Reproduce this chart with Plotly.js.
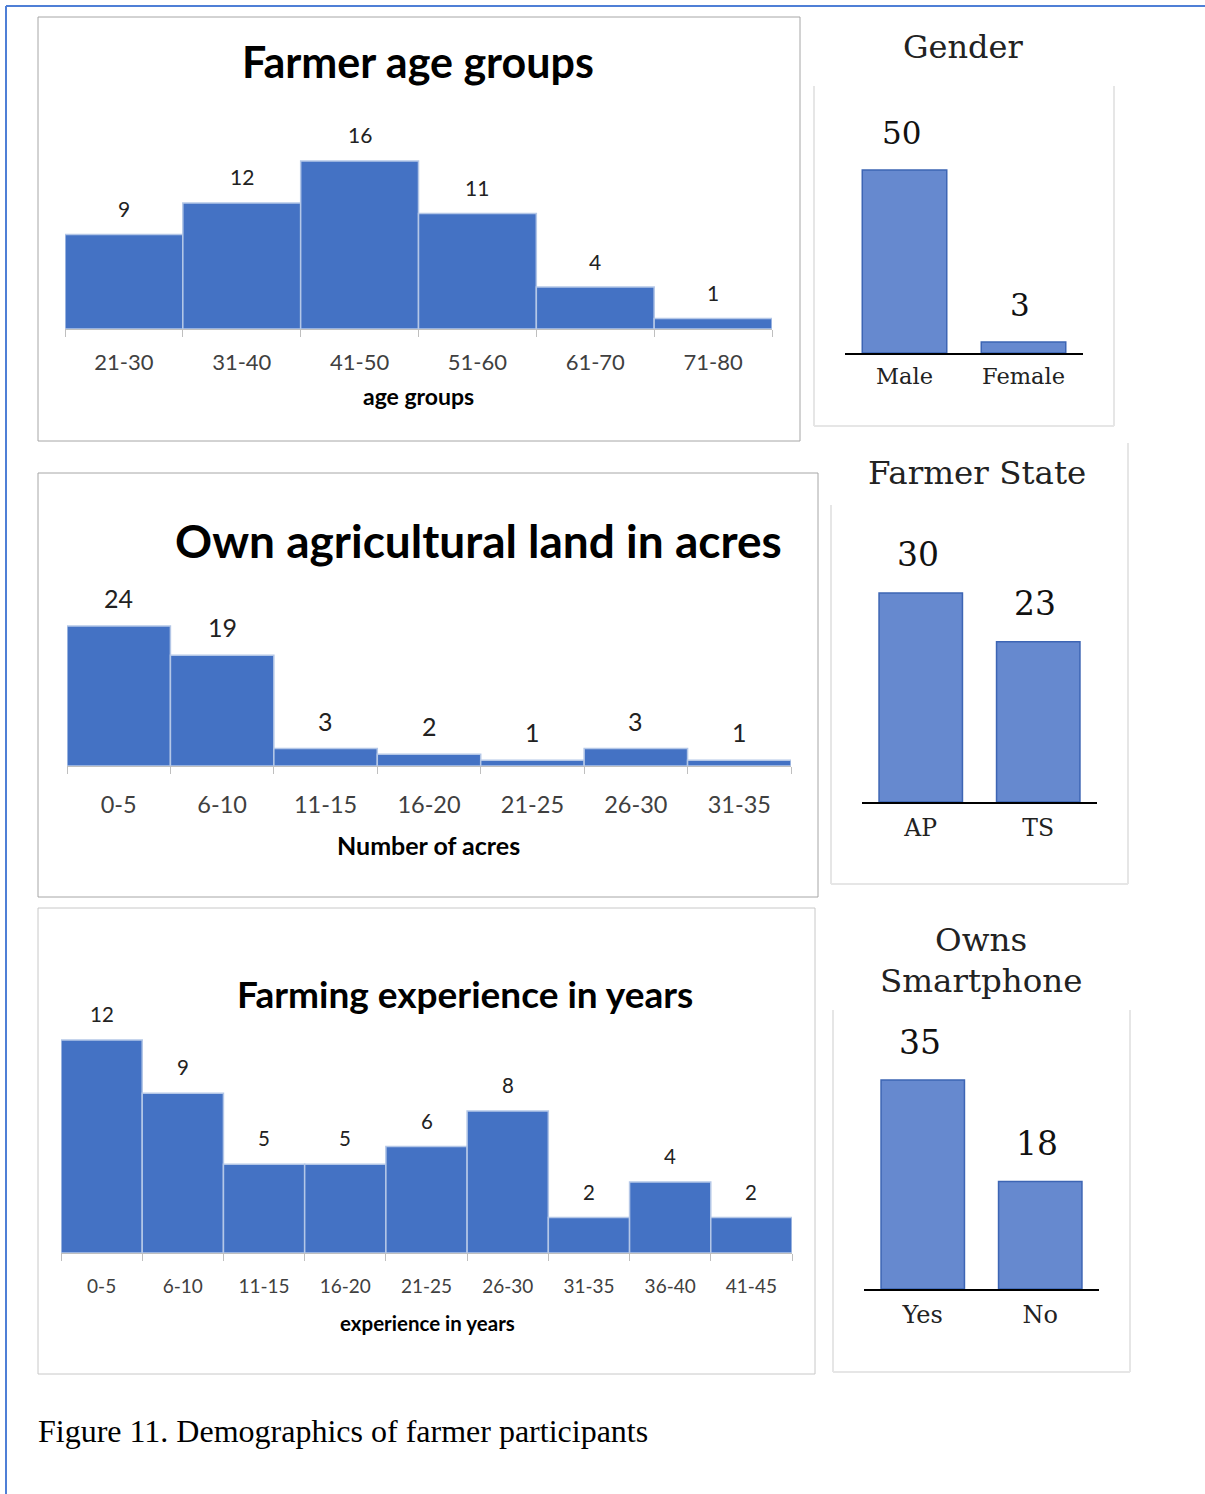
<!DOCTYPE html>
<html>
<head>
<meta charset="utf-8">
<script src="https://cdn.plot.ly/plotly-3.0.1.min.js"></script>
<style>html,body{margin:0;padding:0;background:#fff;}#chart{width:1205px;height:1494px;}</style>
</head>
<body>
<div id="chart"></div>
<script>
// ---- data ----
const ageGroups = ['21-30','31-40','41-50','51-60','61-70','71-80'];
const ageCounts = [9,12,16,11,4,1];
const landGroups = ['0-5','6-10','11-15','16-20','21-25','26-30','31-35'];
const landCounts = [24,19,3,2,1,3,1];
const expGroups = ['0-5','6-10','11-15','16-20','21-25','26-30','31-35','36-40','41-45'];
const expCounts = [12,9,5,5,6,8,2,4,2];
const genderCats = ['Male','Female'];
const genderCounts = [50,3];
const stateCats = ['AP','TS'];
const stateCounts = [30,23];
const phoneCats = ['Yes','No'];
const phoneCounts = [35,18];

// ---- helpers ----
const W = 1205, H = 1494;
const px = x => x / W;
const py = y => 1 - y / H;
const SANS = 'Lato, "Open Sans", sans-serif';
const SERIF = '"Liberation Serif", "Times New Roman", serif';
const WSERIF = '"DejaVu Serif", "Liberation Serif", serif';
const BLUE = '#4472C4';

function histTrace(cats, vals, ax) {
  return {type:'bar', x:cats, y:vals, xaxis:'x'+ax, yaxis:'y'+ax,
    marker:{color:BLUE, line:{color:'#b4c7e7', width:1.5}}, hoverinfo:'skip'};
}
function simpleTrace(cats, vals, ax) {
  return {type:'bar', x:cats, y:vals, xaxis:'x'+ax, yaxis:'y'+ax, width:0.71,
    marker:{color:'#6689cf', line:{color:'#3d65b4', width:1.5}}, hoverinfo:'skip'};
}
const traces = [
  histTrace(ageGroups, ageCounts, ''),
  histTrace(landGroups, landCounts, '2'),
  histTrace(expGroups, expCounts, '3'),
  simpleTrace(genderCats, genderCounts, '4'),
  simpleTrace(stateCats, stateCounts, '5'),
  simpleTrace(phoneCats, phoneCounts, '6')
];

function histX(x0, x1, n, fs, standoff, anchor) {
  return {type:'category', domain:[px(x0), px(x1)], range:[-0.5, n-0.5], anchor:anchor,
    showline:true, linecolor:'#bfbfbf', linewidth:1, ticks:'outside', tickson:'boundaries',
    ticklen:7, tickcolor:'#bfbfbf', tickwidth:1, showgrid:false, zeroline:false,
    tickfont:{family:SANS, size:fs, color:'#404040'}, ticklabelstandoff:standoff, fixedrange:true};
}
function simpleX(x0, x1, fs, standoff, anchor) {
  return {type:'category', domain:[px(x0), px(x1)], range:[-0.5, 1.5], anchor:anchor,
    showline:true, linecolor:'#000', linewidth:1.5, ticks:'', showgrid:false, zeroline:false,
    tickfont:{family:WSERIF, size:fs, color:'#222'}, ticklabelstandoff:standoff, fixedrange:true};
}
function yAx(yBase, yTop, rmax) {
  return {domain:[py(yBase), py(yTop)], range:[0, rmax], visible:false, fixedrange:true};
}

const layout = {
  width:W, height:H, margin:{l:0,r:0,t:0,b:0}, showlegend:false,
  paper_bgcolor:'#fff', plot_bgcolor:'rgba(0,0,0,0)', bargap:0,
  xaxis: histX(65, 772, ageGroups.length, 22, 14, 'y'),
  yaxis: yAx(329, 130, 199/10.5),
  xaxis2: histX(67, 791, landGroups.length, 23.5, 18, 'y2'),
  yaxis2: yAx(766, 590, 176/5.83),
  xaxis3: histX(61, 792, expGroups.length, 19, 16, 'y3'),
  yaxis3: yAx(1253, 1010, 243/17.75),
  xaxis4: simpleX(845, 1083, 22.5, 2, 'y4'),
  yaxis4: yAx(353, 140, 213/3.66),
  xaxis5: simpleX(862, 1097, 23.5, 4, 'y5'),
  yaxis5: yAx(802, 560, 242/6.97),
  xaxis6: simpleX(864, 1099, 24, 4, 'y6'),
  yaxis6: yAx(1289, 1040, 249/5.97),
  shapes:[], annotations:[]
};

// ---- frames ----
const S = layout.shapes;
function line(x0,y0,x1,y1,color,w){ S.push({type:'line', xref:'paper', yref:'paper', x0:px(x0), y0:py(y0), x1:px(x1), y1:py(y1), line:{color:color, width:w}}); }
function rect(x0,y0,x1,y1,color,w){ S.push({type:'rect', xref:'paper', yref:'paper', x0:px(x0), y0:py(y0), x1:px(x1), y1:py(y1), line:{color:color, width:w}, fillcolor:'rgba(0,0,0,0)'}); }
line(6, 6, 1205, 6, '#4f7fd6', 2);
line(6, 6, 6, 1494, '#4f7fd6', 2);
rect(38, 17, 800, 441, '#a6a6a6', 1);
rect(38, 473, 818, 897, '#a6a6a6', 1);
rect(38, 908, 815, 1374, '#c8c8c8', 1);
line(814, 86, 814, 426, '#e6e6e6', 2); line(1114, 86, 1114, 426, '#e6e6e6', 2); line(814, 426, 1114, 426, '#e6e6e6', 2);
line(831, 505, 831, 884, '#e6e6e6', 2); line(1128, 443, 1128, 884, '#e6e6e6', 2); line(831, 884, 1128, 884, '#e6e6e6', 2);
line(833, 1010, 833, 1372, '#e6e6e6', 2); line(1130, 1010, 1130, 1372, '#e6e6e6', 2); line(833, 1372, 1130, 1372, '#e6e6e6', 2);

// ---- text ----
const A = layout.annotations;
function ptext(txt, x, y, size, family, bold, color, xanchor){
  A.push({xref:'paper', yref:'paper', x:px(x), y:py(y), xanchor:xanchor||'center', yanchor:'middle',
    text: bold ? '<b>'+txt+'</b>' : txt, showarrow:false, font:{family:family, size:size, color:color||'#000'}});
}
ptext('Farmer age groups', 418, 62, 43, SANS, true, '#000');
ptext('age groups', 418, 396, 23, SANS, true, '#000');
ptext('Own agricultural land in acres', 478, 540, 46, SANS, true, '#000');
ptext('Number of acres', 428, 845, 25, SANS, true, '#000');
ptext('Farming experience in years', 465, 994, 37, SANS, true, '#000');
ptext('experience in years', 427, 1323, 20.5, SANS, true, '#000');
ptext('Gender', 963, 47, 32, WSERIF, false, '#222');
ptext('Farmer State', 977, 473, 32.5, WSERIF, false, '#222');
ptext('Owns', 981, 940, 32.5, WSERIF, false, '#222');
ptext('Smartphone', 981, 981, 32.5, WSERIF, false, '#222');
ptext('Figure 11. Demographics of farmer participants', 36, 1431, 32, SERIF, false, '#000', 'left');

function vlabels(cats, vals, ax, size, family, shift, color, xs){
  cats.forEach((c,i) => A.push({xref:'x'+ax, yref:'y'+ax, x:c, y:vals[i], yanchor:'middle', yshift:shift, xshift:xs,
    text:String(vals[i]), showarrow:false, font:{family:family, size:size, color:color}}));
}
vlabels(ageGroups, ageCounts, '', 21, SANS, 26, '#222', 0);
vlabels(landGroups, landCounts, '2', 25, SANS, 28, '#222', 0);
vlabels(expGroups, expCounts, '3', 20.5, SANS, 26, '#222', 0);
vlabels(genderCats, genderCounts, '4', 31, WSERIF, 37, '#111', -3);
vlabels(stateCats, stateCounts, '5', 33, WSERIF, 38, '#111', -3);
vlabels(phoneCats, phoneCounts, '6', 33, WSERIF, 38, '#111', -3);

Plotly.newPlot('chart', traces, layout, {staticPlot:true, displayModeBar:false});
</script>
</body>
</html>
